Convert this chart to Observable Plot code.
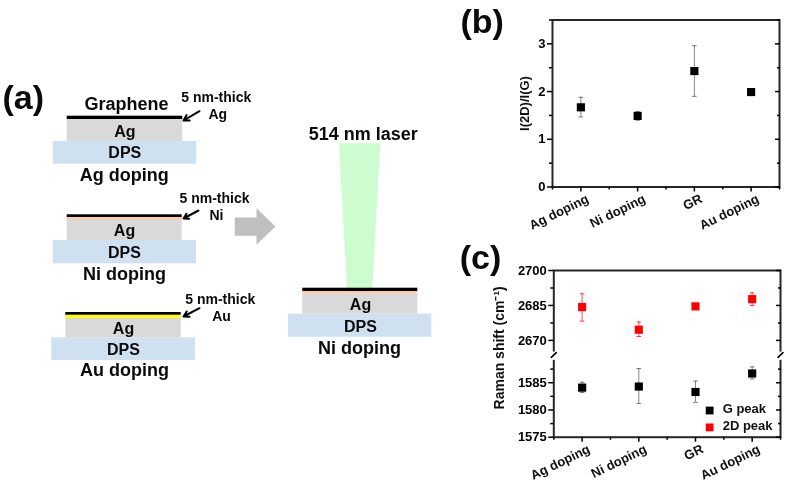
<!DOCTYPE html>
<html><head><meta charset="utf-8">
<script src="https://cdn.jsdelivr.net/npm/d3@7"></script>
<script src="https://cdn.jsdelivr.net/npm/@observablehq/plot@0.6"></script>
<style>
html,body{margin:0;padding:0;background:#fff}
#page{position:relative;width:787px;height:485px;overflow:hidden;filter:blur(0.4px)}
#page svg{position:absolute;background:transparent;overflow:visible}
</style></head><body><div id="page"></div>
<script>
// ---------- data ----------
const categories = ["Ag doping","Ni doping","GR","Au doping"];
const ratioValues = [1.67,1.49,2.43,1.99];
const ratioLow    = [1.47,1.40,1.90,1.94];
const ratioHigh   = [1.88,1.58,2.96,2.04];
const gPeak     = [1584.1,1584.3,1583.3,1586.7];
const gLow      = [1583.2,1581.2,1581.4,1585.7];
const gHigh     = [1585.1,1587.6,1585.3,1587.9];
const twoDPeak  = [2684.3,2674.6,2684.6,2687.7];
const twoDLow   = [2678.3,2671.7,2683.4,2685.0];
const twoDHigh  = [2690.0,2677.9,2685.9,2690.4];
const ratioTicks = [0,1,2,3];
const ratioMinor = [0.5,1.5,2.5,3.5];
const shiftTicks = [1575,1580,1585,2670,2685,2700];
const shiftMinor = [1577.5,1582.5,1587.5,2677.5,2692.5];
const seriesNames = ["G peak","2D peak"];
const stackNames = ["Ag doping","Ni doping","Au doping","Ni doping"];
const metalNames = ["Ag","Ni","Au"];
const FONT = "'Liberation Sans',Arial,sans-serif";
const page = document.getElementById("page");
function mount(svg,l,t){svg.style.left=l+"px";svg.style.top=t+"px";page.appendChild(svg);}

// ---------- panel a : schematic, drawn on a plain 1:1 scale ----------
const layers = [
 [66.7,182.3,119,141,"#d9d9d9"],[52.7,196.3,141,163.7,"#cfe0f1"],[66.7,182.3,115.7,119,"#000"],
 [66.7,181.7,220,240,"#d9d9d9"],[52.7,196,240,263.3,"#cfe0f1"],[66.7,181.7,217,220,"#f8cbad"],[66.7,181.7,214.3,217,"#000"],
 [65.3,180.7,318,337.3,"#d9d9d9"],[51.3,195,337.3,360,"#cfe0f1"],[65.3,180.7,314.7,318,"#ffff00"],[65.3,180.7,312,314.7,"#000"],
 [302.3,417.3,293.7,313.7,"#d9d9d9"],[288,431.3,313.7,336.7,"#cfe0f1"],[302.3,417.3,291,293.7,"#f8cbad"],[302.3,417.3,287.7,291,"#000"]
].map(([x1,x2,y1,y2,c])=>({x1,x2,y1,y2,c}));
const labels = [
 ["(a)",22.7,98,34],["Graphene",126,103.3,18],
 ["5 nm-thick",215.7,96.7,14],[metalNames[0],217.3,114.3,14],
 ["Ag",124.3,131.7,16],["DPS",124.3,152.3,16],[stackNames[0],123.7,174.3,18],
 ["5 nm-thick",214,197.7,14],[metalNames[1],216,215,14],
 ["Ag",124,230.7,16],["DPS",124,252.3,16],[stackNames[1],124,274,18],
 ["5 nm-thick",219.7,299,14],[metalNames[2],221,316.3,14],
 ["Ag",123,328.3,16],["DPS",123,349,16],[stackNames[2],124,370,18],
 ["514 nm laser",362.7,133.3,18],
 ["Ag",360,304.3,16],["DPS",360,326,16],[stackNames[3],359,347.7,18]
].map(([t,x,y,s])=>({t,x,y,s}));
const pointers = [[199,110.7,183,120],[198,210,183,218],[199,307.7,183,316]].map(([x1,y1,x2,y2])=>({x1,y1,x2,y2}));
const laser = [{y:143.3,x1:339,x2:380.3},{y:287.7,x1:347,x2:372.3}];
const bigArrow = [[234.3,217],[256,217],[256,207.7],[275,226],[256,244.3],[256,235.3],[234.3,235.3]];
mount(Plot.plot({
  width:450,height:485,margin:0,
  x:{domain:[0,450],range:[0,450],axis:null},
  y:{domain:[0,485],range:[0,485],axis:null},
  style:{fontFamily:FONT},
  marks:[
    Plot.areaX(laser,{x1:"x1",x2:"x2",y:"y",fill:"#ccfccf"}),
    Plot.rect(layers,{x1:"x1",x2:"x2",y1:"y1",y2:"y2",fill:"c"}),
    Plot.line(bigArrow,{x:d=>d[0],y:d=>d[1],fill:"#bfbfbf",stroke:null}),
    Plot.arrow(pointers,{x1:"x1",y1:"y1",x2:"x2",y2:"y2",stroke:"#000",strokeWidth:2,headLength:6,bend:0}),
    ...[34,18,16,14].map(s=>Plot.text(labels.filter(d=>d.s===s),{x:"x",y:"y",text:"t",fontSize:s,fontWeight:"bold",fill:"#0a0a0a",lineAnchor:"middle"}))
  ]
}),0,0);

// ---------- shared axes ----------
const xTickMajor=[1,2,3,4], xTickMinor=[0.5,1.5,2.5,3.5,4.5];
function frameAxes(yTicks,yMinor){
  const blank=()=>"";
  return [
    Plot.axisX({anchor:"bottom",ticks:xTickMajor,tickSize:5,tickFormat:blank,label:null,strokeWidth:1.5}),
    Plot.axisX({anchor:"bottom",ticks:xTickMinor,tickSize:3,tickFormat:blank,label:null,strokeWidth:1.5}),
    Plot.axisY({anchor:"left",ticks:yTicks,tickSize:5,tickPadding:2,label:null,fontSize:13,fontWeight:"bold",strokeWidth:1.5,tickFormat:d=>String(d)}),
    Plot.axisY({anchor:"left",ticks:yMinor,tickSize:3,tickFormat:blank,label:null,strokeWidth:1.5}),
    Plot.axisY({anchor:"right",ticks:yTicks,tickSize:-5,tickFormat:blank,label:null,strokeWidth:1.5}),
    Plot.axisY({anchor:"right",ticks:yMinor,tickSize:-3,tickFormat:blank,label:null,strokeWidth:1.5})
  ];
}
const catLabels = (dy)=>Plot.text(categories,{x:(d,i)=>i+1,frameAnchor:"bottom",text:d=>d,rotate:-26,textAnchor:"end",lineAnchor:"middle",fontSize:13,fontWeight:"bold",dx:7,dy,fill:"#111"});
const idx=[0,1,2,3];
function errs(low,high,color){return [
  Plot.ruleX(idx,{x:i=>i+1,y1:i=>low[i],y2:i=>high[i],stroke:color,strokeWidth:1,strokeOpacity:.7}),
  Plot.link(idx,{x1:i=>i+1-0.04,x2:i=>i+1+0.04,y1:i=>low[i],y2:i=>low[i],stroke:color,strokeWidth:1,strokeOpacity:.8}),
  Plot.link(idx,{x1:i=>i+1-0.04,x2:i=>i+1+0.04,y1:i=>high[i],y2:i=>high[i],stroke:color,strokeWidth:1,strokeOpacity:.8})
];}
const squares=(vals,color)=>Plot.dot(idx,{x:i=>i+1,y:i=>vals[i],symbol:"square",r:4.6,fill:color,stroke:null});

// ---------- panel b ----------
mount(Plot.plot({
  width:337,height:240,marginLeft:102,marginRight:8,marginTop:19.5,marginBottom:53.5,
  x:{type:"linear",domain:[0.5,4.5],axis:null},
  y:{type:"linear",domain:[0,3.5],axis:null},
  style:{fontFamily:FONT,color:"#000"},
  marks:[
    Plot.frame({stroke:"#000",strokeWidth:2,strokeOpacity:.85}),
    ...frameAxes(ratioTicks,ratioMinor),
    catLabels(11),
    ...errs(ratioLow,ratioHigh,"#555"),
    squares(ratioValues,"#000"),
    Plot.text(["I(2D)/I(G)"],{frameAnchor:"left",textAnchor:"middle",dx:-28,dy:0,rotate:-90,fontSize:13,fontWeight:"bold",text:d=>d,fill:"#111"}),
    Plot.text(["(b)"],{frameAnchor:"top-left",textAnchor:"start",lineAnchor:"middle",dx:-92,dy:2.5,fontSize:34,fontWeight:"bold",text:d=>d,fill:"#0a0a0a"})
  ]
}),450,0);

// ---------- panel c ----------
mount(Plot.plot({
  width:337,height:245,marginLeft:103.3,marginRight:7,marginTop:30,marginBottom:48.3,
  x:{type:"linear",domain:[0.5,4.5],axis:null},
  y:{type:"linear",domain:[1575,1590,2664,2700],range:[196.7,115,113.9,30],axis:null},
  style:{fontFamily:FONT,color:"#000"},
  marks:[
    Plot.frame({stroke:"#000",strokeWidth:2,strokeOpacity:.85}),
    Plot.link([0.5,4.5],{x1:d=>d,x2:d=>d,y1:()=>1589.2,y2:()=>2665.2,stroke:"#fff",strokeWidth:4}),
    Plot.link([0.5,0.5,4.5,4.5],{x1:d=>d-0.05,x2:d=>d+0.05,y1:()=>1589.6,y2:()=>2664.9,stroke:"#000",strokeWidth:1.3}),
    ...frameAxes(shiftTicks,shiftMinor),
    catLabels(11),
    ...errs(gLow,gHigh,"#555"),
    ...errs(twoDLow,twoDHigh,"#f00"),
    squares(gPeak,"#000"),
    squares(twoDPeak,"#f00"),
    Plot.dot(seriesNames,{x:()=>3.25,y:(d,i)=>[1579.9,1576.8][i],symbol:"square",r:4.4,fill:(d,i)=>["#000","#f00"][i],stroke:null}),
    Plot.text(seriesNames,{x:()=>3.48,y:(d,i)=>[1580.2,1577.1][i],text:d=>d,textAnchor:"start",fontSize:13,fontWeight:"bold",fill:"#111"}),
    Plot.text(["Raman shift (cm⁻¹)"],{frameAnchor:"left",textAnchor:"middle",dx:-54,dy:-6,rotate:-90,fontSize:14,fontWeight:"bold",text:d=>d,fill:"#111"}),
    Plot.text(["(c)"],{frameAnchor:"top-left",textAnchor:"start",lineAnchor:"middle",dx:-94,dy:-12,fontSize:34,fontWeight:"bold",text:d=>d,fill:"#0a0a0a"})
  ]
}),450,240);
</script></body></html>
